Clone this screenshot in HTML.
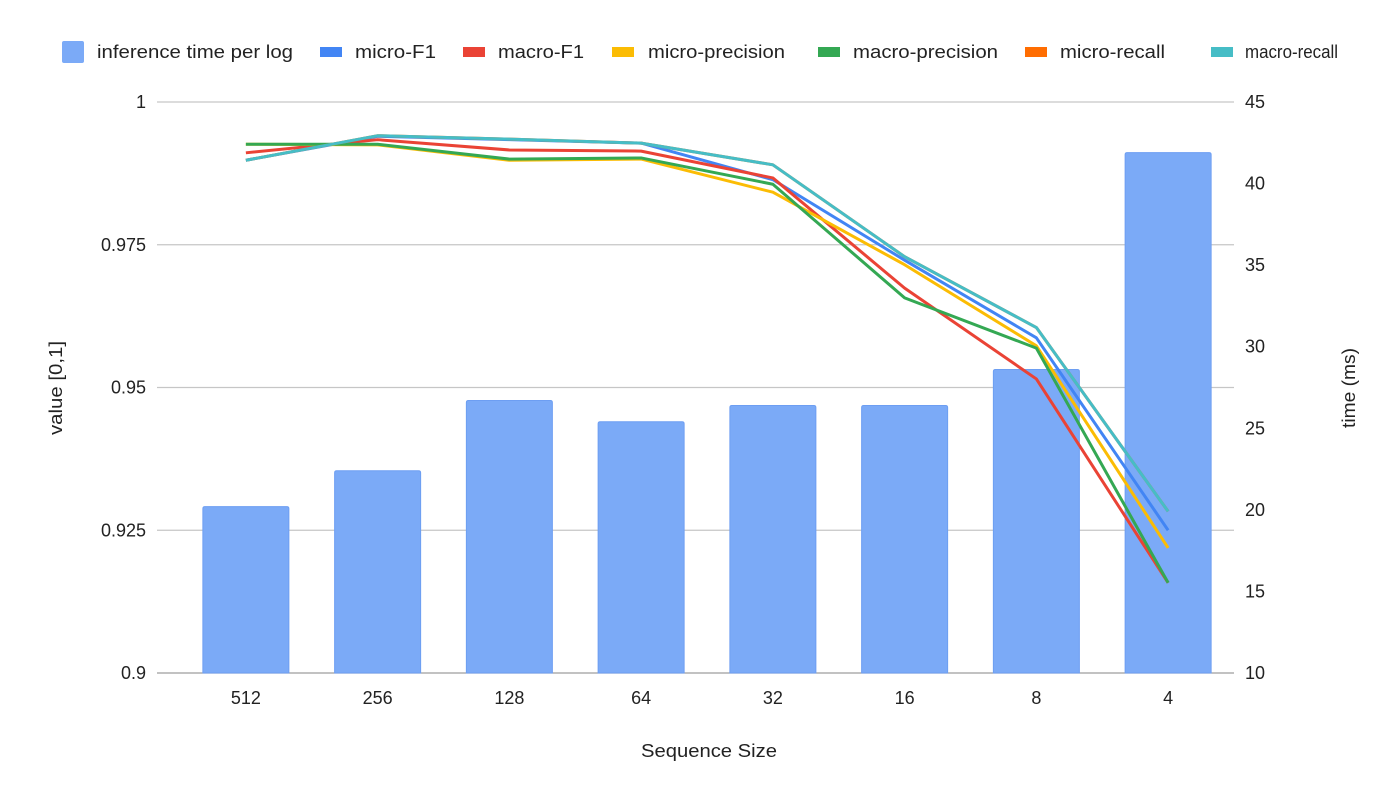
<!DOCTYPE html>
<html><head><meta charset="utf-8"><style>
body{margin:0;background:#fff;}
svg{display:block;font-family:"Liberation Sans",Arial,sans-serif;}
</style></head><body>
<svg id="chart" width="1400" height="803" viewBox="0 0 1400 803"></svg>
<script>
const categories=["512","256","128","64","32","16","8","4"];
const timeMs=[20.2,22.4,26.7,25.4,26.4,26.4,28.6,41.9];
const microF1=[0.9898,0.9940,0.9934,0.9928,0.9864,0.9723,0.9587,0.9250];
const macroF1=[0.9911,0.9934,0.9916,0.9914,0.9867,0.9674,0.9515,0.9158];
const microPrecision=[0.9926,0.9925,0.9898,0.9900,0.9842,0.9715,0.9573,0.9219];
const macroPrecision=[0.9926,0.9926,0.9900,0.9902,0.9856,0.9657,0.9569,0.9158];
const microRecall=[0.9898,0.9941,0.9935,0.9928,0.9890,0.9729,0.9605,0.9283];
const macroRecall=[0.9898,0.9941,0.9935,0.9928,0.9890,0.9729,0.9605,0.9283];
const leftTicks=["0.9","0.925","0.95","0.975","1"];
const rightTicks=["10","15","20","25","30","35","40","45"];

const svg=document.getElementById('chart');
const NS="http://www.w3.org/2000/svg";
const X0=180,X1=1234,GX0=157,Y0=673,Y1=102;
const step=(X1-X0)/categories.length;
function xPos(i){return X0+step*(i+0.5);}
function yVal(v){return Y0-(v-0.9)/0.1*(Y0-Y1);}
function yTime(t){return Y0-(t-10)/35*(Y0-Y1);}
function mk(tag,attrs,parent){const e=document.createElementNS(NS,tag);for(const k in attrs)e.setAttribute(k,attrs[k]);(parent||svg).appendChild(e);return e;}

leftTicks.forEach((t)=>{
  const y=yVal(parseFloat(t));
  const g=mk('line',{x1:GX0,x2:X1,y1:y,y2:y,stroke:parseFloat(t)===0.9?'#9e9e9e':'#c6c6c6','stroke-width':1.2});
  
  
  const tx=mk('text',{x:146,y:y+6,'text-anchor':'end','font-size':18,fill:'#222'});
  tx.textContent=t;
  
  
});
rightTicks.forEach((t)=>{
  const y=yTime(parseFloat(t));
  const tx=mk('text',{x:1245,y:y+6,'text-anchor':'start','font-size':18,fill:'#222'});
  tx.textContent=t;
  
  
});
timeMs.forEach((t,i)=>{
  const y=yTime(t);
  const b=mk('path',{d:`M${xPos(i)-43},${Y0} V${y+2} Q${xPos(i)-43},${y} ${xPos(i)-41},${y} H${xPos(i)+41} Q${xPos(i)+43},${y} ${xPos(i)+43},${y+2} V${Y0} Z`,fill:'#7baaf7',stroke:'#6d9ef2','stroke-width':1});
  
  
});
categories.forEach((c,i)=>{
  const tx=mk('text',{x:xPos(i),y:704,'text-anchor':'middle','font-size':18,fill:'#222'});
  tx.textContent=c;
  
  
});
const series=[
  ['micro-f1-line',microF1,'#4285f4'],
  ['macro-f1-line',macroF1,'#ea4335'],
  ['micro-precision-line',microPrecision,'#fbbc04'],
  ['macro-precision-line',macroPrecision,'#34a853'],
  ['micro-recall-line',microRecall,'#ff6d01'],
  ['macro-recall-line',macroRecall,'#46bdc6']
];
series.forEach(([name,vals,col])=>{
  const p=mk('polyline',{points:vals.map((v,i)=>xPos(i)+','+yVal(v)).join(' '),fill:'none',stroke:col,'stroke-width':3,'stroke-linejoin':'round'});
  
  
});
let t=mk('text',{x:0,y:0,transform:'translate(62,388) rotate(-90)','text-anchor':'middle','font-size':18,fill:'#222',textLength:94,lengthAdjust:'spacingAndGlyphs'});
t.textContent='value [0,1]';


t=mk('text',{x:0,y:0,transform:'translate(1355,388) rotate(-90)','text-anchor':'middle','font-size':18,fill:'#222',textLength:80,lengthAdjust:'spacingAndGlyphs'});
t.textContent='time (ms)';


t=mk('text',{x:641,y:757,'font-size':18,fill:'#222',textLength:136,lengthAdjust:'spacingAndGlyphs'});
t.textContent='Sequence Size';


const legend=[
  ['inference time per log','#7baaf7',62,97,196,true],
  ['micro-F1','#4285f4',320,355,81,false],
  ['macro-F1','#ea4335',463,498,86,false],
  ['micro-precision','#fbbc04',612,648,137,false],
  ['macro-precision','#34a853',818,853,145,false],
  ['micro-recall','#ff6d01',1025,1060,105,false],
  ['macro-recall','#46bdc6',1211,1245,93,false]
];
legend.forEach(([label,col,mx,tx,w,isBar])=>{
  const g=mk('g',{});
  
  
  if(isBar) mk('rect',{x:mx,y:41,width:22,height:22,rx:2,fill:col},g);
  else mk('rect',{x:mx,y:47,width:22,height:10,fill:col},g);
  const te=mk('text',{x:tx,y:58,'font-size':18,fill:'#222',textLength:w,lengthAdjust:'spacingAndGlyphs'},g);
  te.textContent=label;
});
</script>
</body></html>
